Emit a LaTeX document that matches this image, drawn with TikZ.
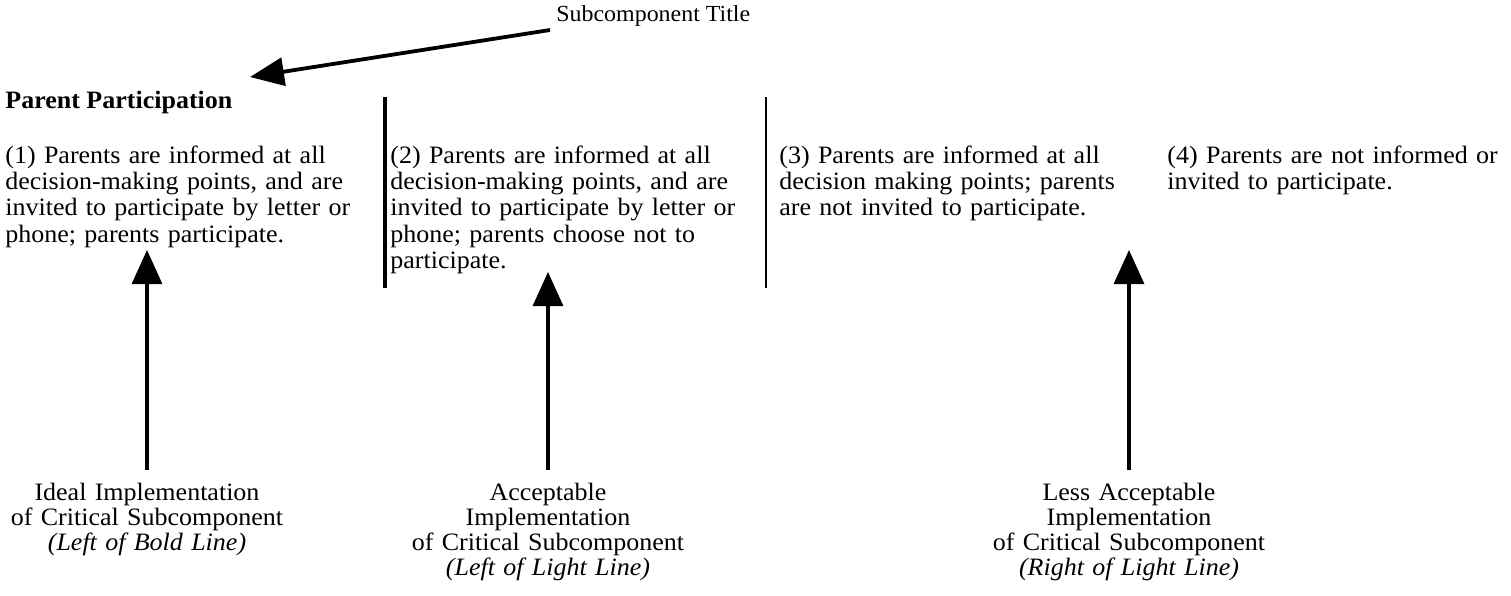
\documentclass[tikz,border=0pt]{standalone}
\usepackage{fontspec}
\setmainfont{Liberation Serif}[FakeStretch=1.04]
\usetikzlibrary{arrows.meta}
\begin{document}
\begin{tikzpicture}[x=0.5pt,y=-0.5pt,
  body/.style={anchor=base west, inner sep=0pt, text width=185pt, align=left,
    font=\fontsize{12.5}{13.2}\selectfont},
  label/.style={anchor=base, inner sep=0pt, text width=170pt, align=center,
    font=\fontsize{12.5}{12.5}\selectfont},
  divbold/.style={line width=2.3pt},
  divlight/.style={line width=0.9pt},
  uparrow/.style={line width=1.6pt, -{Triangle[length=17pt,width=15pt]}},
  titlearrow/.style={line width=1.9pt, -{Triangle[length=17pt,width=14pt]}}]
\useasboundingbox (0,0) rectangle (1511,595);

% title and subcomponent label
\node[anchor=base west, inner sep=0pt, font=\fontsize{11.5}{13}\selectfont] (sub) at (556,21) {Subcomponent Title};
\node[anchor=base west, inner sep=0pt, font=\fontsize{12.5}{13.5}\selectfont\bfseries] (pp) at (5,108) {Parent Participation};
\coordinate (s0) at (550,30);
\coordinate (s1) at (250,77);
\draw[titlearrow] (s0) -- (s1);

% column texts
\node[body] (c1) at (5,163) {(1) Parents are informed at all\\decision-making points, and are\\invited to participate by letter or\\phone; parents participate.};
\node[body] (c2) at (390,163) {(2) Parents are informed at all\\decision-making points, and are\\invited to participate by letter or\\phone; parents choose not to\\participate.};
\node[body] (c3) at (779,163) {(3) Parents are informed at all\\decision making points; parents\\are not invited to participate.};
\node[body] (c4) at (1167,163) {(4) Parents are not informed or\\invited to participate.};

% divider lines
\coordinate (bl0) at (385,97);
\coordinate (bl1) at (385,288);
\coordinate (ll0) at (766,97);
\coordinate (ll1) at (766,288);
\draw[divbold] (bl0) -- (bl1);
\draw[divlight] (ll0) -- (ll1);

% bottom labels
\node[label] (l1) at (147,500) {Ideal Implementation\\of Critical Subcomponent\\\textit{(Left of Bold Line)}};
\node[label] (l2) at (548,500) {Acceptable\\Implementation\\of Critical Subcomponent\\\textit{(Left of Light Line)}};
\node[label] (l3) at (1129,500) {Less Acceptable\\Implementation\\of Critical Subcomponent\\\textit{(Right of Light Line)}};

% arrows
\coordinate (a1b) at (147,470);
\coordinate (a1t) at (147,250);
\coordinate (a2b) at (548,470);
\coordinate (a2t) at (548,272);
\coordinate (a3b) at (1129,470);
\coordinate (a3t) at (1129,250);
\draw[uparrow] (a1b) -- (a1t);
\draw[uparrow] (a2b) -- (a2t);
\draw[uparrow] (a3b) -- (a3t);
\end{tikzpicture}
\end{document}
